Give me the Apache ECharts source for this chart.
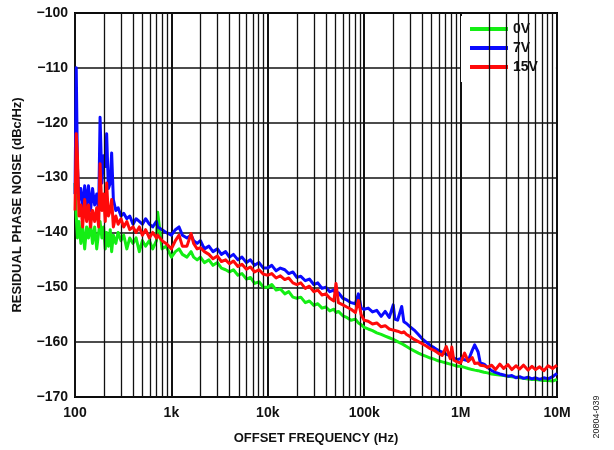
<!DOCTYPE html>
<html><head><meta charset="utf-8">
<script src="https://cdn.jsdelivr.net/npm/echarts@6/dist/echarts.min.js"></script>
<style>html,body{margin:0;padding:0;background:#fff}#c{width:614px;height:450px}</style>
</head><body><div id="c"></div>
<script>
// Offset frequency (Hz)
const freq = [
  100,103,106,110,115,120,126,132,138,145,152,160,168,176,182,190,198,206,213,222,232,240,250,265,280,300,320,345,370,400,430,465,500,540,590,640,700,720,800,880,
  1000,1100,1200,1300,1450,1600,1700,1850,2000,2200,2450,2700,3000,3300,3650,4000,4400,4900,5400,6000,6600,7300,8100,9000,
  10000,11000,12200,13500,15000,16500,18200,20000,22000,24500,27000,30000,33000,36500,40000,44000,48500,51000,54000,60000,66000,73000,81000,87000,93000,
  100000,110000,122000,135000,150000,165000,182000,200000,208000,222000,245000,258000,275000,300000,330000,365000,400000,440000,485000,530000,585000,645000,710000,780000,810000,850000,920000,
  1000000,1100000,1200000,1320000,1400000,1450000,1520000,1600000,1750000,1900000,2100000,2300000,2550000,2800000,3100000,3400000,3750000,4100000,4500000,5000000,5500000,6000000,6600000,7300000,8100000,9000000,10000000
];
// Residual phase noise (dBc/Hz), 0V
const noise0V = [
  -131,-137,-141,-138,-142,-139,-143,-139,-141,-138.5, -142,-139,-143,-140,-138,-141,-139,-143,-140,-142.5,
  -139.5,-143.5,-140.5,-142,-140,-141.5,-140.5,-143,-141,-142, -141,-143.5,-141.5,-142.5,-141.5,-143,-141.5,-136.3,-143,-142.5,
  -144.5,-143.5,-143,-144,-144.5,-143.5,-144.5,-145,-144.5,-145.5, -145,-146,-145.5,-146.5,-146.8,-147.2,-146.8,-147.8,-147.5,-148.5, -148.2,-149.3,-149,-150,
  -150,-149.5,-150.5,-150.3,-151.2,-150.8,-151.8,-152,-151.8,-152.8, -152.5,-153.3,-153,-153.8,-153.6,-154.3,-154,-154.6,-154.4,-155.2, -155.5,-156,-155.8,-156.5,-156.8,
  -157.3,-157.6,-157.9,-158.3,-158.6,-158.9,-159.2,-159.5,-159.7,-159.9, -160.3,-160.5,-160.8,-161.2,-161.6,-162,-162.3,-162.6,-162.9,-163.1, -163.4,-163.6,-163.8,-164,-164.1,-164.2,-164.4,
  -164.4,-164.6,-164.8,-165,-165.1,-165.1,-165.2,-165.3,-165.5,-165.6, -165.8,-165.9,-166,-166.1,-166.2,-166.3,-166.4,-166.5,-166.6,-166.7, -166.8,-166.8,-166.9,-167,-167,-167.1,-166.8
];
// 7V
const noise7V = [
  -133,-110,-128,-134,-132,-136,-131.5,-135,-131.5,-136, -132,-135,-133,-136,-119,-131,-126,-128,-122,-132,
  -131,-125.5,-134,-136,-135.5,-137,-136.5,-137.5,-137,-138.5, -137.5,-138,-138.5,-137.5,-138.5,-139,-138,-139,-139.5,-140,
  -140.5,-139.5,-139,-140.5,-141,-140.5,-141.5,-142,-141.5,-143, -142.5,-143.5,-143,-144,-143.5,-144.5,-144,-145,-144.5,-145.5, -145,-146,-145.5,-146.5,
  -146.5,-146,-147,-146.5,-146.8,-147.5,-147.2,-148.2,-148,-148.8, -148.5,-149.5,-149.2,-150.2,-150,-150.8,-150.5,-151.2,-151,-152, -152.3,-152.8,-153,-151.2,-153.8,
  -154,-153.8,-154.5,-154.2,-155.3,-154.4,-155.5,-153.2,-155.8,-156, -153.5,-156.3,-156.6,-157.2,-157.8,-158.6,-159.4,-160,-160.6,-161, -161.5,-161.8,-162.2,-162.5,-162.7,-162.9,-163.2,
  -163,-163.2,-163.4,-161.5,-160.5,-160.4,-161.8,-163.8,-164,-164.6, -165.2,-165.5,-165.8,-166,-166.2,-166.1,-166.5,-166.3,-166.6,-166.4, -166.7,-166.5,-166.8,-166.5,-166.7,-166.3,-165.7
];
// 15V
const noise15V = [
  -136,-122,-126,-137,-135,-139,-134,-138,-135,-139, -136,-138,-135.5,-139,-127.5,-136,-133,-138,-131,-137,
  -136,-134,-139,-137,-138.5,-137.5,-139,-138,-139.5,-139, -140,-139,-140.5,-139.5,-141,-140,-141,-140.5,-141.5,-142,
  -143,-141.5,-140.5,-142.5,-142.5,-140.2,-142,-143,-142.8,-143.5, -144,-144.8,-144.3,-145.3,-145,-145.7,-145.2,-146.2,-145.8,-146.7, -146.3,-147.2,-146.8,-147.6,
  -147.8,-147.5,-148.3,-147.9,-148.6,-148.3,-149.2,-149.5,-149.2,-150.2, -149.8,-150.8,-150.5,-151.4,-151.2,-152,-152.5,-149.3,-152.8,-153.2, -153.6,-154,-154.6,-152.4,-155,
  -156,-156.2,-156.7,-156.5,-157.2,-157,-157.6,-157.8,-157.5,-158, -158.3,-158.1,-158.6,-159,-159.5,-159.9,-160.3,-160.7,-161.2,-161.5, -162,-162.4,-160.8,-163,-160.9,-163.3,-163.6,
  -163.8,-162,-163.5,-162.8,-163.9,-164,-163.8,-164.2,-164.3,-164.6, -164.2,-165,-164,-164.8,-164.1,-165,-164.3,-164.9,-164.2,-165.1, -164.4,-165,-164.5,-165.2,-164.3,-164.8,-164.2
];
const seriesNames = ['0V', '7V', '15V'];
const seriesColors = ['#14ee14', '#0a0aff', '#ff0a0a'];
const xTickValues = [100, 1000, 10000, 100000, 1000000, 10000000];
const xTickText = ['100', '1k', '10k', '100k', '1M', '10M'];
const yTickValues = [-170, -160, -150, -140, -130, -120, -110, -100];

const FONT = '"Liberation Sans", Arial, Helvetica, sans-serif';
const minorGrid = [];
for (let i = 0; i < xTickValues.length - 1; i++) {
  for (let m = 2; m <= 9; m++) minorGrid.push(m * xTickValues[i]);
}
const allSeries = [noise0V, noise7V, noise15V];
const zip = vals => freq.slice(0, vals.length).map((f, i) => [f, vals[i]]);

const chart = echarts.init(document.getElementById('c'), null, {renderer: 'canvas'});
const option = {
  animation: false,
  backgroundColor: '#fff',
  grid: {left: 75, right: 57, top: 13, bottom: 53, show: true, borderColor: '#000', borderWidth: 2, backgroundColor: 'transparent'},
  xAxis: {
    type: 'log', logBase: 10, min: 100, max: 10000000, splitNumber: 5,
    name: 'OFFSET FREQUENCY (Hz)', nameLocation: 'middle', nameGap: 35,
    nameTextStyle: {fontFamily: FONT, fontWeight: 'bold', fontSize: 13, color: '#111'},
    axisLine: {show: false}, axisTick: {show: false},
    axisLabel: {
      margin: 9, fontFamily: FONT, fontWeight: 'bold', fontSize: 14, color: '#111',
      formatter: v => { const k = xTickValues.findIndex(t => Math.abs(t - v) / t < 1e-6); return k >= 0 ? xTickText[k] : ''; }
    },
    splitLine: {show: true, lineStyle: {color: '#111', width: 2}}
  },
  yAxis: {
    type: 'value', min: -170, max: -100, interval: 10,
    name: 'RESIDUAL PHASE NOISE (dBc/Hz)', nameLocation: 'middle', nameGap: 51,
    nameTextStyle: {fontFamily: FONT, fontWeight: 'bold', fontSize: 13, color: '#111'},
    axisLine: {show: false}, axisTick: {show: false},
    axisLabel: {margin: 7, fontFamily: FONT, fontWeight: 'bold', fontSize: 14, color: '#111',
      formatter: v => yTickValues.includes(v) ? '\u2212' + Math.abs(v) : ''},
    splitLine: {show: true, lineStyle: {color: '#111', width: 1.5}}
  },
  legend: {
    data: seriesNames, orient: 'vertical', left: 461, top: 16,
    padding: [6, 18, 8, 9], itemGap: 5, backgroundColor: '#fff',
    icon: 'rect', itemWidth: 38, itemHeight: 4,
    textStyle: {fontFamily: FONT, fontWeight: 'bold', fontSize: 14, color: '#111', lineHeight: 14},
    selectedMode: false
  },
  graphic: [{
    type: 'text', x: 597, y: 417, rotation: Math.PI / 2,
    style: {text: '20804-039', fontFamily: FONT, fontSize: 9, fill: '#222', align: 'center', verticalAlign: 'middle'}
  }],
  series: [{
    type: 'line', name: 'minorGrid', data: [], silent: true, z: 1,
    markLine: {
      silent: true, symbol: ['none', 'none'], label: {show: false}, animation: false,
      lineStyle: {color: '#111', width: 1.3, type: 'solid'}, emphasis: {disabled: true},
      data: minorGrid.map(v => ({xAxis: v}))
    }
  }].concat(seriesNames.map((n, i) => ({
    type: 'line', name: n, data: zip(allSeries[i]), showSymbol: false, symbol: 'none',
    z: 3 + i, color: seriesColors[i],
    lineStyle: {color: seriesColors[i], width: 3, join: 'round'},
    emphasis: {disabled: true}
  })))
};
chart.setOption(option);
</script>
</body></html>
